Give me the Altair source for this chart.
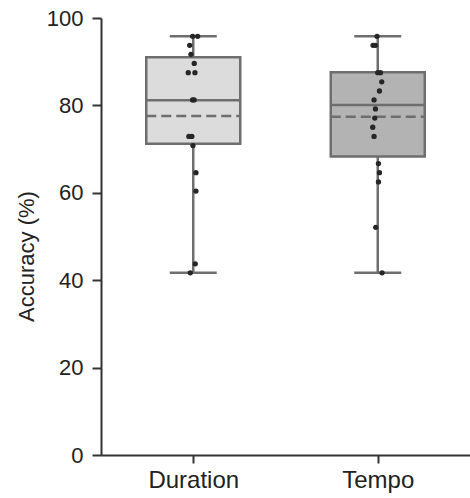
import altair as alt
import pandas as pd

categories = ["Duration", "Tempo"]
fills = ["#dcdcdc", "#b3b3b3"]

# box statistics
q1 = [71.2, 68.3]
median = [81.2, 80.1]
q3 = [91.0, 87.6]
mean = [77.6, 77.4]
wmin = [41.7, 41.7]
wmax = [95.8, 95.8]

# individual points (accuracy %) and horizontal jitter (px)
dur_vals = [95.8, 95.8, 93.75, 91.7, 89.6, 87.5, 87.5, 81.25, 81.25, 72.9, 72.9, 70.8, 64.6, 60.4, 43.75, 41.7]
dur_jit = [-0.6, 4.4, -3.6, -2.3, 1.0, -5.0, 1.7, -0.7, 0.9, -4.4, -1.4, -0.3, 2.7, 2.7, 2.0, -3.0]
tem_vals = [95.8, 93.75, 93.75, 87.5, 87.5, 85.4, 83.3, 81.25, 79.2, 77.1, 75.0, 72.9, 66.7, 64.6, 62.5, 52.1, 41.7]
tem_jit = [-0.7, -4.7, -2.3, 0.0, 2.7, 4.0, 1.7, -3.7, -2.3, -3.0, -5.0, -3.7, 0.7, 1.7, 0.7, -2.0, 4.3]

stats = pd.DataFrame({
    "cat": categories, "fill": fills, "q1": q1, "median": median, "q3": q3,
    "mean": mean, "wmin": wmin, "wmax": wmax,
})
stats["pos"] = [i + 0.5 for i in range(len(categories))]

pts = pd.DataFrame({
    "cat": ["Duration"] * len(dur_vals) + ["Tempo"] * len(tem_vals),
    "val": dur_vals + tem_vals,
    "jit": dur_jit + tem_jit,
})
pts["pos"] = pts["cat"].map({c: i + 0.5 for i, c in enumerate(categories)})

W, H = 369, 437
px = 2.0 / W  # data units per pixel on x
BOX_HALF = 47 * px
CAP_HALF = 23.5 * px
LINE = "#6e6e6e"

xscale = alt.Scale(domain=[0, 2], nice=False, zero=False)
yscale = alt.Scale(domain=[0, 100], nice=False)

label_expr = "datum.value < 1 ? 'Duration' : 'Tempo'"
xaxis = alt.Axis(values=[0.5, 1.5], labelExpr=label_expr, title=None, grid=False,
                 labelFontSize=24, labelColor="#222", labelFont="Liberation Sans",
                 tickSize=8, tickWidth=2, tickColor="#333", domainColor="#333",
                 domainWidth=2, labelPadding=5)
yaxis = alt.Axis(values=[0, 20, 40, 60, 80, 100], title="Accuracy (%)", grid=False,
                 labelFontSize=22, labelColor="#222", labelFont="Liberation Sans",
                 titleFontSize=22, titleFont="Liberation Sans", titleFontWeight="normal",
                 titleColor="#222", titleX=-63, titleY=238, titleBaseline="bottom",
                 tickSize=9, tickWidth=2, tickColor="#333", domainColor="#333",
                 domainWidth=2, labelPadding=9)

base = alt.Chart(stats)

axes = alt.Chart(stats).mark_point(opacity=0).encode(
    x=alt.X("pos:Q", scale=xscale, axis=xaxis),
    y=alt.Y("median:Q", scale=yscale, axis=yaxis),
)

whisker = base.mark_rule(color=LINE, strokeWidth=2.5).encode(
    x=alt.X("pos:Q", scale=xscale), y=alt.Y("wmin:Q", scale=yscale), y2="wmax:Q"
)

caps = base.transform_calculate(
    xl=f"datum.pos - {CAP_HALF}", xr=f"datum.pos + {CAP_HALF}"
)
caps_min = caps.mark_rule(color=LINE, strokeWidth=2.5).encode(
    x=alt.X("xl:Q", scale=xscale), x2="xr:Q", y=alt.Y("wmin:Q", scale=yscale)
)
caps_max = caps.mark_rule(color=LINE, strokeWidth=2.5).encode(
    x=alt.X("xl:Q", scale=xscale), x2="xr:Q", y=alt.Y("wmax:Q", scale=yscale)
)

boxbase = base.transform_calculate(
    xl=f"datum.pos - {BOX_HALF}", xr=f"datum.pos + {BOX_HALF}"
)
box = boxbase.mark_rect(stroke=LINE, strokeWidth=2.5).encode(
    x=alt.X("xl:Q", scale=xscale), x2="xr:Q",
    y=alt.Y("q1:Q", scale=yscale), y2="q3:Q",
    fill=alt.Fill("fill:N", scale=None),
)
med = boxbase.mark_rule(color=LINE, strokeWidth=2.5).encode(
    x=alt.X("xl:Q", scale=xscale), x2="xr:Q", y=alt.Y("median:Q", scale=yscale)
)
mn = boxbase.mark_rule(color=LINE, strokeWidth=2.5, strokeDash=[10, 5]).encode(
    x=alt.X("xl:Q", scale=xscale), x2="xr:Q", y=alt.Y("mean:Q", scale=yscale)
)

points = alt.Chart(pts).transform_calculate(
    xp=f"datum.pos + datum.jit * {px}"
).mark_circle(color="#262626", opacity=1, size=28).encode(
    x=alt.X("xp:Q", scale=xscale), y=alt.Y("val:Q", scale=yscale)
)

chart = alt.layer(axes, whisker, caps_min, caps_max, box, med, mn, points).properties(
    width=W, height=H,
    autosize=alt.AutoSizeParams(type="none"),
    padding={"left": 101, "top": 18, "right": 0, "bottom": 43},
).configure_view(stroke=None)

chart.save("out.html", embed_options={"renderer": "svg", "actions": False})
